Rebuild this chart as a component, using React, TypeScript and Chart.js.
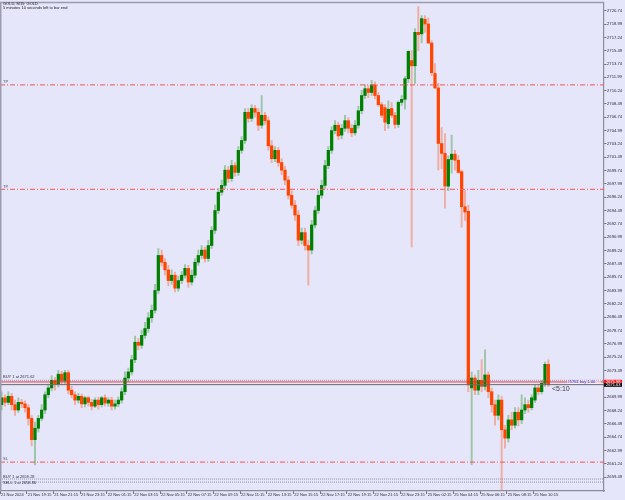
import React, { useEffect, useRef } from "react";
import { Chart, registerables } from "chart.js";
Chart.register(...registerables);

const FONT = '"Liberation Sans", Arial, sans-serif';

const xTickLabels = [
  "21 Nov 2024", "21 Nov 19:15", "21 Nov 21:15", "21 Nov 23:15", "22 Nov 01:15",
  "22 Nov 03:15", "22 Nov 05:15", "22 Nov 07:15", "22 Nov 09:15", "22 Nov 11:15",
  "22 Nov 13:15", "22 Nov 15:15", "22 Nov 17:15", "22 Nov 19:15", "22 Nov 21:15",
  "22 Nov 23:15", "25 Nov 02:15", "25 Nov 04:15", "25 Nov 06:15", "25 Nov 08:15",
  "25 Nov 10:15",
];
const xTickBars = [0, 8, 16, 24, 32, 40, 48, 56, 64, 72, 80, 88, 96, 104, 112, 120, 128, 136, 144, 152, 160];

const yTickValues = [
  2659.49, 2661.24, 2662.99, 2664.74, 2666.49, 2668.24, 2669.99, 2671.74, 2673.49, 2675.24,
  2676.99, 2678.74, 2680.49, 2682.24, 2683.99, 2685.74, 2687.49, 2689.24, 2690.99, 2692.74,
  2694.49, 2696.24, 2697.99, 2699.74, 2701.49, 2703.24, 2704.99, 2706.74, 2708.49, 2710.24,
  2711.99, 2713.74, 2715.49, 2717.24, 2718.99, 2720.74,
];

const opens = [
  2669.0, 2669.9, 2669.3, 2670.1, 2669.0, 2668.3, 2669.3, 2669.1, 2668.6, 2667.2,
  2664.4, 2665.9, 2667.2, 2668.3, 2670.3, 2671.2, 2672.2, 2671.7, 2673.0, 2672.1,
  2673.2, 2670.9, 2670.3, 2669.6, 2670.1, 2669.1, 2669.9, 2669.3, 2668.8, 2669.6,
  2669.0, 2669.9, 2669.2, 2669.6, 2668.8, 2669.1, 2669.6, 2670.7, 2672.5, 2673.3,
  2674.9, 2677.2, 2676.8, 2678.1, 2679.0, 2680.4, 2681.4, 2684.0, 2688.6, 2687.7,
  2686.7, 2685.3, 2686.0, 2684.3, 2685.3, 2686.0, 2686.9, 2685.1, 2686.0, 2687.7,
  2688.6, 2689.3, 2688.2, 2689.9, 2691.9, 2694.5, 2696.9, 2697.8, 2699.8, 2698.7,
  2700.4, 2699.5, 2702.4, 2703.7, 2707.4, 2706.6, 2707.9, 2707.4, 2705.7, 2707.0,
  2706.3, 2703.0, 2701.3, 2702.4, 2700.8, 2699.8, 2698.5, 2696.5, 2695.2, 2693.9,
  2690.6, 2691.6, 2689.9, 2689.3, 2692.6, 2694.5, 2696.5, 2697.8, 2700.4, 2702.4,
  2705.0, 2705.7, 2704.4, 2705.3, 2706.3, 2705.3, 2704.7, 2705.7, 2707.6, 2709.6,
  2710.5, 2710.0, 2711.0, 2709.6, 2708.4, 2708.0, 2705.9, 2707.9, 2707.0, 2705.8,
  2708.7, 2709.1, 2711.8, 2714.2, 2713.5, 2717.9, 2717.7, 2719.6, 2719.0, 2716.5,
  2712.5, 2710.6, 2703.3, 2702.0, 2697.7, 2701.2, 2701.9, 2701.1, 2699.6, 2695.0,
  2694.4, 2671.2, 2672.5, 2670.9, 2672.2, 2671.4, 2672.9, 2670.7, 2669.0, 2667.6,
  2669.6, 2665.7, 2664.6, 2667.0, 2666.3, 2668.0, 2667.0, 2668.3, 2669.0, 2668.6,
  2669.6, 2671.2, 2670.7, 2671.8, 2674.3,
];
const highs = [
  2670.7, 2670.3, 2670.7, 2670.5, 2669.6, 2669.9, 2669.7, 2669.5, 2669.0, 2667.6,
  2666.7, 2667.6, 2669.0, 2670.7, 2671.7, 2672.8, 2672.6, 2673.5, 2673.4, 2673.5,
  2673.5, 2671.4, 2670.7, 2670.5, 2670.4, 2670.1, 2670.1, 2669.7, 2669.9, 2670.0,
  2670.1, 2670.3, 2669.9, 2670.0, 2669.6, 2670.0, 2671.2, 2673.3, 2673.8, 2675.5,
  2678.0, 2677.7, 2678.8, 2679.8, 2681.1, 2682.1, 2684.8, 2689.5, 2689.3, 2688.2,
  2687.3, 2686.7, 2686.4, 2685.9, 2686.5, 2687.4, 2687.3, 2686.7, 2688.2, 2689.3,
  2689.9, 2689.7, 2690.6, 2692.4, 2695.2, 2697.4, 2698.5, 2700.4, 2700.3, 2701.1,
  2700.8, 2702.9, 2704.2, 2707.9, 2707.9, 2708.4, 2708.3, 2707.9, 2709.6, 2707.4,
  2706.8, 2703.7, 2702.9, 2702.8, 2701.3, 2700.3, 2699.0, 2697.1, 2695.8, 2694.5,
  2692.2, 2692.2, 2690.6, 2693.2, 2695.0, 2697.1, 2698.5, 2701.1, 2702.9, 2705.5,
  2706.3, 2706.1, 2705.8, 2707.0, 2706.7, 2705.8, 2706.3, 2708.2, 2710.3, 2711.0,
  2710.9, 2711.6, 2711.4, 2710.0, 2708.7, 2708.4, 2708.9, 2708.7, 2707.4, 2708.9,
  2709.6, 2712.1, 2715.5, 2715.5, 2718.4, 2721.3, 2720.1, 2720.1, 2719.8, 2716.8,
  2713.8, 2711.2, 2705.4, 2704.6, 2701.7, 2704.4, 2702.4, 2701.7, 2699.8, 2697.1,
  2695.2, 2673.3, 2672.9, 2673.5, 2674.9, 2676.2, 2673.3, 2671.2, 2669.6, 2670.3,
  2670.1, 2666.3, 2667.6, 2668.0, 2668.6, 2668.6, 2670.3, 2669.9, 2669.6, 2670.3,
  2671.6, 2671.7, 2672.2, 2674.6, 2674.9,
];
const lows = [
  2668.3, 2668.8, 2669.0, 2668.3, 2667.6, 2668.0, 2668.6, 2668.0, 2666.3, 2663.6,
  2661.1, 2665.4, 2666.9, 2667.8, 2669.9, 2670.8, 2670.9, 2671.3, 2671.6, 2671.7,
  2670.4, 2669.9, 2669.0, 2669.2, 2668.6, 2668.7, 2668.8, 2668.3, 2668.6, 2668.4,
  2668.7, 2668.8, 2668.8, 2668.3, 2668.4, 2668.7, 2669.2, 2670.3, 2672.0, 2672.9,
  2674.5, 2676.2, 2676.4, 2677.7, 2678.5, 2679.8, 2681.0, 2683.6, 2687.2, 2686.0,
  2684.6, 2684.8, 2683.8, 2683.9, 2684.9, 2685.6, 2684.4, 2684.7, 2685.6, 2687.3,
  2688.2, 2687.7, 2687.8, 2689.5, 2691.5, 2694.1, 2696.5, 2697.4, 2698.2, 2698.3,
  2699.0, 2699.1, 2702.0, 2703.3, 2706.1, 2706.2, 2706.8, 2705.0, 2705.3, 2705.8,
  2702.4, 2700.8, 2700.9, 2700.3, 2699.2, 2697.9, 2696.0, 2694.8, 2693.2, 2689.9,
  2690.1, 2689.3, 2684.7, 2688.8, 2692.2, 2694.1, 2696.1, 2697.4, 2700.0, 2702.0,
  2704.6, 2703.8, 2703.9, 2704.9, 2704.7, 2704.2, 2704.4, 2705.3, 2707.2, 2709.2,
  2709.3, 2709.6, 2709.2, 2708.2, 2706.7, 2705.0, 2705.3, 2706.7, 2705.3, 2705.4,
  2708.3, 2707.8, 2711.3, 2689.7, 2711.2, 2715.5, 2716.5, 2717.9, 2716.4, 2712.2,
  2710.5, 2699.8, 2700.0, 2694.8, 2697.1, 2699.4, 2699.8, 2699.4, 2692.3, 2693.2,
  2670.7, 2661.1, 2670.3, 2670.3, 2670.7, 2670.9, 2669.9, 2668.0, 2666.3, 2667.0,
  2657.8, 2663.3, 2664.1, 2665.7, 2665.9, 2666.2, 2666.5, 2667.8, 2668.0, 2668.3,
  2669.3, 2670.3, 2670.4, 2671.4, 2671.4,
];
const closes = [
  2669.9, 2669.3, 2670.1, 2669.0, 2668.3, 2669.3, 2669.1, 2668.6, 2667.2, 2664.4,
  2665.9, 2667.2, 2668.3, 2670.3, 2671.2, 2672.2, 2671.7, 2673.0, 2672.1, 2673.2,
  2670.9, 2670.3, 2669.6, 2670.1, 2669.1, 2669.9, 2669.3, 2668.8, 2669.6, 2669.0,
  2669.9, 2669.2, 2669.6, 2668.8, 2669.1, 2669.6, 2670.7, 2672.5, 2673.3, 2674.9,
  2677.2, 2676.8, 2678.1, 2679.0, 2680.4, 2681.4, 2684.0, 2688.6, 2687.7, 2686.7,
  2685.3, 2686.0, 2684.3, 2685.3, 2686.0, 2686.9, 2685.1, 2686.0, 2687.7, 2688.6,
  2689.3, 2688.2, 2689.9, 2691.9, 2694.5, 2696.9, 2697.8, 2699.8, 2698.7, 2700.4,
  2699.5, 2702.4, 2703.7, 2707.4, 2706.6, 2707.9, 2707.4, 2705.7, 2707.0, 2706.3,
  2703.0, 2701.3, 2702.4, 2700.8, 2699.8, 2698.5, 2696.5, 2695.2, 2693.9, 2690.6,
  2691.6, 2689.9, 2689.3, 2692.6, 2694.5, 2696.5, 2697.8, 2700.4, 2702.4, 2705.0,
  2705.7, 2704.3, 2705.3, 2706.3, 2705.3, 2704.7, 2705.7, 2707.6, 2709.6, 2710.5,
  2710.0, 2711.0, 2709.6, 2708.4, 2707.0, 2706.1, 2707.8, 2707.0, 2705.8, 2708.7,
  2709.1, 2711.8, 2715.4, 2713.5, 2717.9, 2717.6, 2719.7, 2719.0, 2716.5, 2712.6,
  2710.6, 2703.3, 2702.0, 2697.7, 2701.2, 2701.9, 2701.1, 2699.5, 2695.0, 2694.3,
  2671.6, 2672.5, 2670.9, 2672.2, 2671.4, 2672.9, 2670.7, 2669.0, 2667.6, 2669.6,
  2665.7, 2664.6, 2667.0, 2666.3, 2668.0, 2667.0, 2668.3, 2669.0, 2668.6, 2669.9,
  2671.2, 2670.7, 2671.8, 2674.3, 2671.6,
];

// horizontal levels
const levelPrices = [2711.0, 2697.27, 2661.46];
const levelNames = ["TP", "TP", "SL"];
const orderLinePrice = 2671.98;
const orderDotPrice = 2672.2;
const bidPrice = 2671.63;
const lowDotPrices = [2659.23, 2658.83];
const orderLabel = "BUY 1 at 2671.62";
const lowLabels = ["BUY 1 at 2659.28", "SELL 1 at 2658.86"];
const titleLines = ["GOLD, M15: GOLD", "5 minutes 10 seconds left to bar end"];
const timerText = "<5:10";
const blueTag = "#5761 buy 1.00";

const X_MIN = -0.5;
const X_MAX = 180.7;
const Y_MIN = 2657.66;
const Y_MAX = 2721.75;

const BULL = "#008000";
const BEAR = "#FF4500";
const BULL_W = "rgba(0,128,0,0.32)";
const BEAR_W = "rgba(255,69,0,0.35)";

function hLine(price: number, color: string, dash: number[], width = 1) {
  return {
    type: "line" as const,
    data: [{ x: X_MIN, y: price }, { x: X_MAX, y: price }],
    borderColor: color,
    borderWidth: width,
    borderDash: dash,
    pointRadius: 0,
    order: 0,
  };
}

export default function App() {
  const ref = useRef<HTMLCanvasElement | null>(null);
  useEffect(() => {
    const canvas = ref.current;
    if (!canvas) return;
    const idx = closes.map((_, i) => i);
    const bull = idx.map((i) => closes[i] >= opens[i]);

    const decor = {
      id: "decor",
      afterDraw(chart: any) {
        const ctx = chart.ctx as CanvasRenderingContext2D;
        const ca = chart.chartArea;
        const ys = chart.scales.y;
        ctx.save();
        ctx.strokeStyle = "#9c9cae";
        ctx.lineWidth = 1.5;
        ctx.beginPath();
        ctx.moveTo(ca.left + 0.75, ca.bottom);
        ctx.lineTo(ca.left + 0.75, ca.top - 0.5);
        ctx.lineTo(ca.right, ca.top - 0.5);
        ctx.stroke();

        ctx.font = `4px ${FONT}`;
        ctx.fillStyle = "#202020";
        ctx.textBaseline = "middle";
        ctx.textAlign = "left";
        ctx.fillText(titleLines[0], 3, 4);
        ctx.fillText(titleLines[1], 3, 8);

        ctx.fillStyle = "#505060";
        levelPrices.forEach((p, i) => {
          ctx.fillText(levelNames[i], 3, ys.getPixelForValue(p) - 3);
        });
        ctx.fillStyle = "#303040";
        ctx.fillText(orderLabel, 3, ys.getPixelForValue(orderDotPrice) - 3);
        ctx.fillText(lowLabels[0], 3, ys.getPixelForValue(lowDotPrices[0]) - 2.5);
        ctx.fillText(lowLabels[1], 3, ys.getPixelForValue(lowDotPrices[1]) + 0.5);

        const ty = ys.getPixelForValue(orderLinePrice);
        ctx.fillStyle = "rgba(255,255,255,0.5)";
        ctx.fillRect(567, ty - 1.5, 34, 3.5);
        ctx.fillStyle = "#3a3af0";
        ctx.fillText(blueTag, 567.5, ty + 0.3);

        ctx.font = `7px ${FONT}`;
        ctx.fillStyle = "#404048";
        ctx.fillText(timerText, 552, ys.getPixelForValue(bidPrice) + 4.5);

        const ry = ys.getPixelForValue(orderLinePrice);
        const by = ys.getPixelForValue(bidPrice);
        ctx.fillStyle = "#ff1a1a";
        ctx.fillRect(ca.right, ry - 2.2, 18, 3.6);
        ctx.fillStyle = "#111111";
        ctx.fillRect(ca.right, by - 1.6, 18, 3.8);
        ctx.font = `4px ${FONT}`;
        ctx.fillStyle = "#ffffff";
        ctx.fillText(orderLinePrice.toFixed(2), ca.right + 2, ry - 0.4);
        ctx.fillText(bidPrice.toFixed(2), ca.right + 2, by + 0.3);
        ctx.restore();
      },
    };

    const chart = new Chart(canvas, {
      type: "bar",
      data: {
        datasets: [
          {
            type: "bar",
            data: idx.map((i) => ({ x: i, y: [lows[i], highs[i]] })) as any,
            backgroundColor: idx.map((i) => (bull[i] ? BULL_W : BEAR_W)),
            barThickness: 1.3,
            grouped: false,
            order: 3,
          } as any,
          {
            type: "bar",
            data: idx.map((i) => ({ x: i, y: [opens[i], closes[i]] })) as any,
            backgroundColor: idx.map((i) => (bull[i] ? BULL : BEAR)),
            barThickness: 2.6,
            minBarLength: 1,
            grouped: false,
            order: 2,
          } as any,
          hLine(levelPrices[0], "rgba(245,90,90,0.85)", [5, 2, 1, 2], 1.2),
          hLine(levelPrices[1], "rgba(245,90,90,0.85)", [5, 2, 1, 2], 1.2),
          hLine(levelPrices[2], "rgba(245,90,90,0.85)", [5, 2, 1, 2], 1.2),
          hLine(orderDotPrice, "rgba(120,120,140,0.7)", [1, 1], 1),
          hLine(orderLinePrice, "rgba(235,40,40,0.9)", [], 1),
          hLine(bidPrice, "#6a6a72", [], 1),
          hLine(lowDotPrices[0], "rgba(120,120,140,0.75)", [1, 1], 1),
          hLine(lowDotPrices[1], "rgba(120,120,140,0.75)", [1, 1], 1),
        ] as any,
      },
      options: {
        responsive: false,
        devicePixelRatio: 1,
        animation: false,
        events: [],
        layout: { padding: { top: 2, left: 0, right: 0, bottom: 0 } },
        plugins: { legend: { display: false }, tooltip: { enabled: false } },
        scales: {
          x: {
            type: "linear",
            min: X_MIN,
            max: X_MAX,
            offset: false,
            afterBuildTicks: (s: any) => {
              s.ticks = xTickBars.map((b) => ({ value: b - 0.5 }));
            },
            afterFit: (s: any) => {
              s.height = 9;
            },
            ticks: {
              autoSkip: false,
              maxRotation: 0,
              minRotation: 0,
              align: "start",
              padding: -1.5,
              labelOffset: 1,
              color: "#2a2a35",
              font: { size: 4, family: FONT },
              callback: (_v: any, i: number) => xTickLabels[i],
            },
            grid: { drawOnChartArea: false, tickLength: 3, color: "#70707c", offset: false },
            border: { color: "#8c8c9c", width: 1.2 },
          },
          y: {
            type: "linear",
            position: "right",
            min: Y_MIN,
            max: Y_MAX,
            afterBuildTicks: (s: any) => {
              s.ticks = yTickValues.map((v) => ({ value: v }));
            },
            afterFit: (s: any) => {
              s.width = 21;
            },
            ticks: {
              padding: 0.5,
              color: "#2a2a35",
              font: { size: 4.2, family: FONT },
              callback: (v: any) => Number(v).toFixed(2),
            },
            grid: { drawOnChartArea: false, tickLength: 2.5, color: "#70707c" },
            border: { color: "#8c8c9c", width: 1.2 },
          },
        },
      } as any,
      plugins: [decor],
    });
    return () => chart.destroy();
  }, []);

  return (
    <div
      style={{
        position: "absolute",
        left: 0,
        top: 0,
        width: 625,
        height: 500,
        background: "#E6E6FA",
      }}
    >
      <canvas ref={ref} width={625} height={500} style={{ display: "block" }} />
    </div>
  );
}
